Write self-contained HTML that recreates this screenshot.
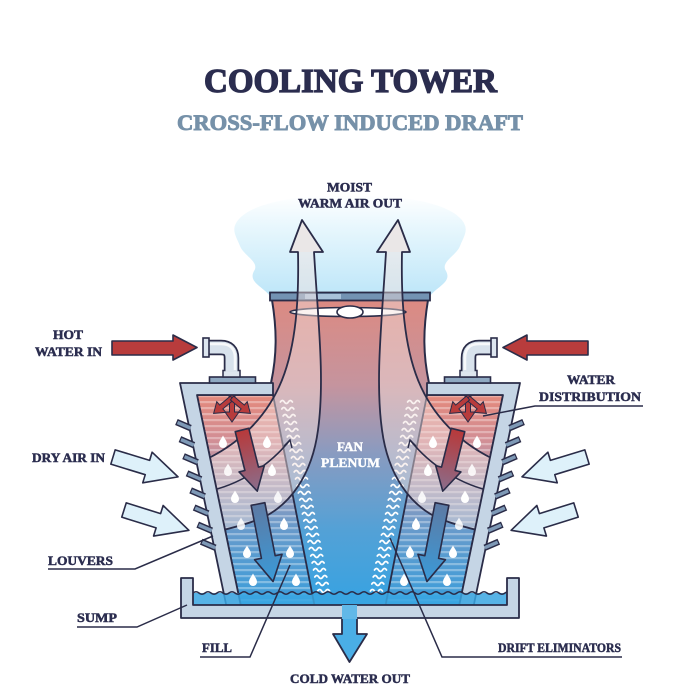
<!DOCTYPE html>
<html><head><meta charset="utf-8">
<style>
html,body{margin:0;padding:0;background:#fff;}
svg{display:block;}
text{font-family:"Liberation Serif",serif;font-weight:bold;}
</style></head>
<body>
<svg width="700" height="700" viewBox="0 0 700 700" xmlns="http://www.w3.org/2000/svg">
<defs>
 <linearGradient id="cloud" x1="0" y1="195" x2="0" y2="300" gradientUnits="userSpaceOnUse">
  <stop offset="0" stop-color="#ffffff"/>
  <stop offset="0.3" stop-color="#e8f7fd"/>
  <stop offset="1" stop-color="#bbe5f8"/>
 </linearGradient>
 <linearGradient id="plen" x1="0" y1="300" x2="0" y2="605" gradientUnits="userSpaceOnUse">
  <stop offset="0" stop-color="#dc8a82"/>
  <stop offset="0.28" stop-color="#c5949e"/>
  <stop offset="0.5" stop-color="#8a9bc0"/>
  <stop offset="0.75" stop-color="#54a1d6"/>
  <stop offset="1" stop-color="#36a3e2"/>
 </linearGradient>
 <linearGradient id="fillg" x1="0" y1="395" x2="0" y2="605" gradientUnits="userSpaceOnUse">
  <stop offset="0" stop-color="#e3887b"/>
  <stop offset="0.22" stop-color="#d28f96"/>
  <stop offset="0.42" stop-color="#a19ab5"/>
  <stop offset="0.62" stop-color="#6a9aca"/>
  <stop offset="1" stop-color="#3a9edb"/>
 </linearGradient>
 <linearGradient id="redar" x1="0" y1="0" x2="0" y2="1">
  <stop offset="0" stop-color="#b8393a"/>
  <stop offset="1" stop-color="#8a6e8c"/>
 </linearGradient>
 <linearGradient id="bluear" x1="0" y1="0" x2="0" y2="1">
  <stop offset="0" stop-color="#5d7aa4"/>
  <stop offset="1" stop-color="#3a9ad8"/>
 </linearGradient>
 <pattern id="stripes" x="0" y="395" width="10" height="6" patternUnits="userSpaceOnUse">
  <rect x="0" y="0" width="10" height="2.2" fill="#ffffff" fill-opacity="0.32"/>
 </pattern>
 <path id="drop" d="M0,-6.5 C1.5,-3.5 4,-1 4,2 A4,4 0 0 1 -4,2 C-4,-1 -1.5,-3.5 0,-6.5Z" fill="#ffffff"/>
 <path id="tri" d="M-2.5,0 L2.5,0 L2.5,14 L7,14 L0,24 L-7,14 L-2.5,14Z" fill="#b83c3c" stroke="#2a2c48" stroke-width="1"/>
 <path id="airin" d="M0,-7.5 L36,-7.5 L36,-16 L68,0 L36,16 L36,7.5 L0,7.5 Z" fill="#def1fa" stroke="#2a2c48" stroke-width="1.6" stroke-linejoin="round"/>
</defs>

<rect width="700" height="700" fill="#ffffff"/>

<!-- cloud -->
<path d="M270,296 C262,286 248,282 254,271 C260,262 244,256 240,246 C236,236 230,229 239,219 C252,204 292,195 350,195 C408,195 448,204 461,219 C470,229 464,236 460,246 C456,256 440,262 446,271 C452,282 438,286 430,296 Z" fill="url(#cloud)"/>

<!-- stack + plenum -->
<path d="M272,300 C277,330 277,355 271,383 L273,395 L315,605 L385,605 L427,395 L429,383 C423,355 423,330 428,300 Z" fill="url(#plen)"/>
<path d="M272,300 C277,330 277,355 271,383 M428,300 C423,330 423,355 429,383" fill="none" stroke="#2a2c48" stroke-width="2"/>

<!-- cap -->
<rect x="270" y="292.5" width="160" height="8" fill="#7393b3" stroke="#2a2c48" stroke-width="1.8"/>
<rect x="305" y="294" width="36" height="5" fill="#a8c2da"/>
<!-- fan -->
<ellipse cx="348" cy="312" rx="58" ry="4.5" fill="#ffffff" stroke="#2a2c48" stroke-width="1.6"/>
<ellipse cx="350" cy="312" rx="13" ry="6" fill="#ffffff" stroke="#2a2c48" stroke-width="1.6"/>

<!-- LEFT HALF (mirrored for right) -->
<g id="half">
 <!-- fill -->
 <polygon points="197,395 273,395 314.4,605 240.7,605" fill="url(#fillg)"/>
 <polygon points="197,395 273,395 314.4,605 240.7,605" fill="url(#stripes)" stroke="#2a2c48" stroke-width="1.8"/>
 <!-- drift eliminators -->
 <path fill="none" stroke="#ffffff" stroke-width="1.7" stroke-linecap="round" d="M280.4,402 q2,-3 4,0 t4,0 t4,0 M281.8,409 q2,-3 4,0 t4,0 t4,0 M283.1,416 q2,-3 4,0 t4,0 t4,0 M284.5,423 q2,-3 4,0 t4,0 t4,0 M285.9,430 q2,-3 4,0 t4,0 t4,0 M287.3,437 q2,-3 4,0 t4,0 t4,0 M288.7,444 q2,-3 4,0 t4,0 t4,0 M290,451 q2,-3 4,0 t4,0 t4,0 M291.4,458 q2,-3 4,0 t4,0 t4,0 M292.8,465 q2,-3 4,0 t4,0 t4,0 M294.2,472 q2,-3 4,0 t4,0 t4,0 M295.5,479 q2,-3 4,0 t4,0 t4,0 M296.9,486 q2,-3 4,0 t4,0 t4,0 M298.3,493 q2,-3 4,0 t4,0 t4,0 M299.7,500 q2,-3 4,0 t4,0 t4,0 M301.1,507 q2,-3 4,0 t4,0 t4,0 M302.4,514 q2,-3 4,0 t4,0 t4,0 M303.8,521 q2,-3 4,0 t4,0 t4,0 M305.2,528 q2,-3 4,0 t4,0 t4,0 M306.6,535 q2,-3 4,0 t4,0 t4,0 M308,542 q2,-3 4,0 t4,0 t4,0 M309.3,549 q2,-3 4,0 t4,0 t4,0 M310.7,556 q2,-3 4,0 t4,0 t4,0 M312.1,563 q2,-3 4,0 t4,0 t4,0 M313.5,570 q2,-3 4,0 t4,0 t4,0 M314.8,577 q2,-3 4,0 t4,0 t4,0 M316.2,584 q2,-3 4,0 t4,0 t4,0 M317.6,591 q2,-3 4,0 t4,0 t4,0"/>
 <!-- moist air band -->
 <path d="M298,252 C299,300 296,345 282,380 C268,415 240,445 200,462 L215,532 C232,528 248,524 262,518 C290,505 312,475 318,430 C325,380 318,320 314,252 Z" fill="#f3e2de" fill-opacity="0.45"/>
 <path d="M302,220 L323,252 L314,252 L298,252 L290,252 Z" fill="#ebe6e4" fill-opacity="0.9"/>
 <path d="M302,220 L323,252 L314,252 C318,320 325,380 318,430 C312,475 290,505 262,518 C248,524 232,528 215,532 L200,462 C240,445 268,415 282,380 C296,345 299,300 298,252 L290,252 Z" fill="none" stroke="#2a2c48" stroke-width="1.8" stroke-linejoin="round"/>
 <path d="M290,440 C270,465 240,485 205,492" fill="none" stroke="#2a2c48" stroke-width="1.6"/>
 <path d="M284,446 L290,440 L292,448" fill="none" stroke="#2a2c48" stroke-width="1.4"/>
 <!-- down arrows -->
 <path transform="translate(242,430) rotate(-14)" d="M-7,0 L7,0 L7,40 L13,40 L0,63 L-13,40 L-7,40 Z" fill="url(#redar)" stroke="#2a2c48" stroke-width="1.6" stroke-linejoin="round"/>
 <path transform="translate(258,504) rotate(-11)" d="M-7,0 L7,0 L7,54 L14,54 L0,79 L-14,54 L-7,54 Z" fill="url(#bluear)" stroke="#2a2c48" stroke-width="1.6" stroke-linejoin="round"/>
 <!-- droplets -->
 <use href="#drop" x="223" y="442"/><use href="#drop" x="267" y="442"/>
 <use href="#drop" x="228" y="470" opacity="0.85"/><use href="#drop" x="272" y="470"/>
 <use href="#drop" x="235" y="497"/><use href="#drop" x="278" y="497" opacity="0.85"/>
 <use href="#drop" x="241" y="524" opacity="0.85"/><use href="#drop" x="284" y="524"/>
 <use href="#drop" x="247" y="552"/><use href="#drop" x="290" y="552"/>
 <use href="#drop" x="253" y="580"/><use href="#drop" x="296" y="580"/>
 <!-- trident -->
 <rect x="229" y="390" width="6" height="9" fill="#b83c3c" stroke="#2a2c48" stroke-width="1"/>
 <use href="#tri" transform="translate(232,398)"/>
 <use href="#tri" transform="translate(232,398) rotate(50)"/>
 <use href="#tri" transform="translate(232,398) rotate(-50)"/>
 <!-- frame -->
 <polygon points="180,383 273,383 273,395 197,395 240.7,605 226.2,605" fill="#c5d5e5" stroke="#2a2c48" stroke-width="1.8" stroke-linejoin="round"/>
 <!-- louvers -->
 <g stroke-linecap="butt">
  <g stroke="#2a2c48" stroke-width="6.5">
   <line x1="176.4" y1="422" x2="190.4" y2="428"/>
   <line x1="179.9" y1="439.1" x2="193.9" y2="445.1"/>
   <line x1="183.5" y1="456.2" x2="197.5" y2="462.2"/>
   <line x1="187" y1="473.3" x2="201" y2="479.3"/>
   <line x1="190.6" y1="490.4" x2="204.6" y2="496.4"/>
   <line x1="194.1" y1="507.5" x2="208.1" y2="513.5"/>
   <line x1="197.7" y1="524.6" x2="211.7" y2="530.6"/>
   <line x1="201.2" y1="541.7" x2="215.2" y2="547.7"/>
  </g>
  <g stroke="#7e99b6" stroke-width="3.5">
   <line x1="177.5" y1="422.5" x2="190.4" y2="428"/>
   <line x1="181" y1="439.6" x2="193.9" y2="445.1"/>
   <line x1="184.6" y1="456.7" x2="197.5" y2="462.2"/>
   <line x1="188.1" y1="473.8" x2="201" y2="479.3"/>
   <line x1="191.7" y1="490.9" x2="204.6" y2="496.4"/>
   <line x1="195.2" y1="508" x2="208.1" y2="513.5"/>
   <line x1="198.8" y1="525.1" x2="211.7" y2="530.6"/>
   <line x1="202.3" y1="542.2" x2="215.2" y2="547.7"/>
  </g>
 </g>
 <!-- pipe -->
 <rect x="209.5" y="377" width="46" height="6" fill="#8fa9c2" stroke="#2a2c48" stroke-width="1.6"/>
 <rect x="223" y="370.5" width="17" height="6.5" fill="#dde6ef" stroke="#2a2c48" stroke-width="1.5"/>
 <path d="M207,347.5 L221,347.5 Q231.5,347.5 231.5,358 L231.5,371" fill="none" stroke="#2a2c48" stroke-width="15.5"/>
 <path d="M207,347.5 L221,347.5 Q231.5,347.5 231.5,358 L231.5,372" fill="none" stroke="#d8e2ec" stroke-width="12"/>
 <path d="M207,344 L221,344 Q235,344 235,358 L235,370" fill="none" stroke="#ffffff" stroke-width="2.5" opacity="0.8"/>
 <rect x="203" y="338" width="6" height="19" fill="#dde6ef" stroke="#2a2c48" stroke-width="1.6"/>
 <!-- hot water arrow -->
 <path d="M112,341 L173,341 L173,335 L197,347.5 L173,360 L173,355 L112,355 Z" fill="#b83c3c" stroke="#2a2c48" stroke-width="1.6" stroke-linejoin="round"/>
 <!-- dry air in -->
 <use href="#airin" transform="translate(113,457) rotate(17)"/>
 <use href="#airin" transform="translate(124,510) rotate(17.4)"/>
</g>

<use href="#half" transform="matrix(-1 0 0 1 700 0)"/>

<!-- water -->
<rect x="193" y="593" width="314" height="12" fill="#3aa6e2" fill-opacity="0.85"/>
<path d="M193,593 q3,-2.5 6,0 t6,0 t6,0 t6,0 t6,0 t6,0 t6,0 t6,0 t6,0 t6,0 t6,0 t6,0 t6,0 t6,0 t6,0 t6,0 t6,0 t6,0 t6,0 t6,0 t6,0 t6,0 t6,0 t6,0 t6,0 t6,0 t6,0 t6,0 t6,0 t6,0 t6,0 t6,0 t6,0 t6,0 t6,0 t6,0 t6,0 t6,0 t6,0 t6,0 t6,0 t6,0 t6,0 t6,0 t6,0 t6,0 t6,0 t6,0 t6,0 t6,0 t6,0 t6,0 t6,0" fill="none" stroke="#2a2c48" stroke-width="1.5"/>

<!-- sump -->
<path d="M181,578 L193,578 L193,605 L507,605 L507,578 L519,578 L519,618 L181,618 Z" fill="#c5d5e5" stroke="#2a2c48" stroke-width="1.8" stroke-linejoin="round"/>
<!-- cold water out -->
<rect x="342" y="605" width="15" height="29" fill="#62b8e8"/>
<path d="M342,619 L342,634 L333,634 L349.5,662 L367,634 L357,634 L357,619" fill="#4aaee6" stroke="#2a2c48" stroke-width="1.8" stroke-linejoin="round"/>

<!-- leader lines -->
<g fill="none" stroke="#2a2c48" stroke-width="1.5">
 <polyline points="48,569 135,569 213,536"/>
 <polyline points="77,627 137,627 187,605"/>
 <polyline points="643,406 535,406 483,416"/>
 <polyline points="200,657 250,657 290,565"/>
 <polyline points="622,657 442,657 390,538"/>
</g>

<!-- text -->
<text x="204" y="92" font-size="34" fill="#2b2d4f" stroke="#2b2d4f" stroke-width="1.3" textLength="293" lengthAdjust="spacingAndGlyphs">COOLING TOWER</text>
<text x="177" y="130" font-size="22" fill="#7691a9" stroke="#7691a9" stroke-width="0.9" textLength="346" lengthAdjust="spacingAndGlyphs">CROSS-FLOW INDUCED DRAFT</text>

<g font-size="13" fill="#2b2d4f" stroke="#2b2d4f" stroke-width="0.5">
 <text x="327" y="191.5" textLength="45" lengthAdjust="spacingAndGlyphs">MOIST</text>
 <text x="298" y="207.5" textLength="104" lengthAdjust="spacingAndGlyphs">WARM AIR OUT</text>
 <text x="53" y="339" textLength="30" lengthAdjust="spacingAndGlyphs">HOT</text>
 <text x="35" y="356" textLength="67" lengthAdjust="spacingAndGlyphs">WATER IN</text>
 <text x="32" y="462" textLength="73" lengthAdjust="spacingAndGlyphs">DRY AIR IN</text>
 <text x="48" y="565" textLength="65" lengthAdjust="spacingAndGlyphs">LOUVERS</text>
 <text x="77" y="622" textLength="40" lengthAdjust="spacingAndGlyphs">SUMP</text>
 <text x="567" y="384" textLength="48" lengthAdjust="spacingAndGlyphs">WATER</text>
 <text x="539" y="401" textLength="102" lengthAdjust="spacingAndGlyphs">DISTRIBUTION</text>
 <text x="202" y="652" textLength="30" lengthAdjust="spacingAndGlyphs">FILL</text>
 <text x="498" y="652" textLength="123" lengthAdjust="spacingAndGlyphs">DRIFT ELIMINATORS</text>
 <text x="290" y="683" textLength="120" lengthAdjust="spacingAndGlyphs">COLD WATER OUT</text>
</g>
<g font-size="13" fill="#ffffff" stroke="#ffffff" stroke-width="0.4">
 <text x="337" y="451" textLength="26" lengthAdjust="spacingAndGlyphs">FAN</text>
 <text x="321" y="467" textLength="59" lengthAdjust="spacingAndGlyphs">PLENUM</text>
</g>
</svg>
</body></html>
